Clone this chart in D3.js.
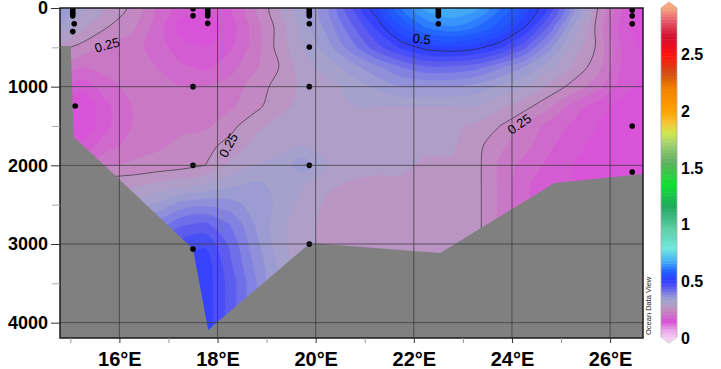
<!DOCTYPE html>
<html>
<head>
<meta charset="utf-8">
<script src="https://cdn.jsdelivr.net/npm/d3@7"></script>
<style>
body { margin: 0; background: #fff; }
svg { font-family: "Liberation Sans", Arial, sans-serif; }
</style>
</head>
<body>
<svg width="721" height="369"></svg>
<script>
// gridded section values (rows = depth, cols = longitude)
var gridLon = [14.75, 15.25, 15.75, 16.25, 16.75, 17.25, 17.75, 18.25, 18.75, 19.25, 19.75, 20.25, 20.75,
               21.25, 21.75, 22.25, 22.75, 23.25, 23.75, 24.25, 24.75, 25.25, 25.75, 26.25, 26.75];
var gridDepth = [0, 250, 500, 750, 1000, 1250, 1500, 1750, 2000, 2250, 2500, 2750, 3000, 3250, 3500, 3750, 4000, 4250];
var field = [
  [0.36,0.30,0.27,0.245,0.20,0.16,0.15,0.17,0.22,0.27,0.32,0.37,0.45,0.52,0.60,0.66,0.68,0.66,0.60,0.54,0.47,0.36,0.25,0.17,0.14],
  [0.32,0.28,0.25,0.23,0.19,0.14,0.13,0.16,0.21,0.26,0.31,0.36,0.42,0.48,0.55,0.60,0.62,0.60,0.56,0.50,0.42,0.32,0.24,0.16,0.13],
  [0.26,0.24,0.22,0.21,0.19,0.16,0.15,0.17,0.21,0.26,0.30,0.34,0.39,0.44,0.48,0.51,0.52,0.51,0.48,0.43,0.36,0.29,0.245,0.17,0.14],
  [0.22,0.20,0.21,0.21,0.20,0.18,0.17,0.19,0.22,0.25,0.29,0.31,0.34,0.37,0.40,0.42,0.42,0.41,0.38,0.35,0.31,0.27,0.235,0.17,0.15],
  [0.18,0.16,0.19,0.21,0.21,0.20,0.20,0.21,0.235,0.26,0.28,0.29,0.31,0.33,0.35,0.35,0.35,0.34,0.32,0.30,0.27,0.24,0.21,0.16,0.14],
  [0.14,0.13,0.17,0.20,0.21,0.21,0.21,0.22,0.24,0.27,0.28,0.29,0.30,0.30,0.30,0.30,0.30,0.30,0.28,0.26,0.23,0.19,0.16,0.14,0.13],
  [0.14,0.13,0.17,0.20,0.21,0.22,0.22,0.24,0.27,0.28,0.29,0.29,0.29,0.29,0.29,0.29,0.28,0.27,0.25,0.22,0.19,0.17,0.15,0.13,0.13],
  [0.17,0.16,0.19,0.21,0.22,0.23,0.24,0.26,0.28,0.29,0.30,0.29,0.29,0.29,0.29,0.28,0.28,0.26,0.23,0.21,0.18,0.16,0.14,0.13,0.13],
  [0.20,0.20,0.22,0.23,0.235,0.24,0.25,0.28,0.30,0.31,0.34,0.30,0.29,0.28,0.28,0.27,0.27,0.26,0.22,0.19,0.17,0.15,0.14,0.13,0.13],
  [0.26,0.26,0.27,0.27,0.28,0.29,0.30,0.32,0.33,0.32,0.30,0.28,0.27,0.27,0.27,0.27,0.27,0.26,0.22,0.18,0.16,0.15,0.14,0.14,0.14],
  [0.30,0.30,0.30,0.31,0.33,0.36,0.37,0.36,0.34,0.32,0.29,0.27,0.26,0.26,0.26,0.26,0.26,0.26,0.22,0.18,0.16,0.15,0.14,0.14,0.14],
  [0.33,0.33,0.34,0.35,0.38,0.42,0.43,0.40,0.35,0.31,0.28,0.27,0.26,0.26,0.26,0.26,0.26,0.26,0.22,0.18,0.16,0.15,0.14,0.14,0.14],
  [0.36,0.36,0.38,0.40,0.43,0.46,0.47,0.42,0.36,0.31,0.28,0.27,0.26,0.26,0.26,0.26,0.26,0.26,0.22,0.18,0.16,0.15,0.14,0.14,0.14],
  [0.40,0.40,0.42,0.44,0.46,0.48,0.49,0.43,0.37,0.32,0.28,0.27,0.26,0.26,0.26,0.26,0.26,0.26,0.22,0.18,0.16,0.15,0.14,0.14,0.14],
  [0.42,0.42,0.44,0.46,0.47,0.48,0.49,0.44,0.38,0.32,0.28,0.27,0.26,0.26,0.26,0.26,0.26,0.26,0.22,0.18,0.16,0.15,0.14,0.14,0.14],
  [0.42,0.42,0.44,0.46,0.47,0.48,0.49,0.44,0.38,0.32,0.28,0.27,0.26,0.26,0.26,0.26,0.26,0.26,0.22,0.18,0.16,0.15,0.14,0.14,0.14],
  [0.42,0.42,0.44,0.46,0.47,0.48,0.49,0.44,0.38,0.32,0.28,0.27,0.26,0.26,0.26,0.26,0.26,0.26,0.22,0.18,0.16,0.15,0.14,0.14,0.14],
  [0.42,0.42,0.44,0.46,0.47,0.48,0.49,0.44,0.38,0.32,0.28,0.27,0.26,0.26,0.26,0.26,0.26,0.26,0.22,0.18,0.16,0.15,0.14,0.14,0.14]
];

// seafloor
var bottomLon   = [14.6, 15.01, 15.07, 15.97, 17.50, 17.81, 19.89, 22.54, 24.87, 26.67, 26.9];
var bottomDepth = [483, 483, 1640, 2161, 3063, 4093, 2987, 3114, 2224, 2110, 2105];

// sample positions
var sampleLon = [15.05, 15.05, 15.05, 15.05, 15.08, 15.05, 15.1,
                 17.5, 17.5, 17.5, 17.5, 17.5,
                 17.8, 17.8, 17.8, 17.8, 17.8,
                 19.87, 19.87, 19.87, 19.87, 19.87, 19.87, 19.87, 19.87, 19.87,
                 22.5, 22.5, 22.5, 22.5, 22.5,
                 26.45, 26.45, 26.45, 26.45, 26.45];
var sampleDepth = [10, 40, 70, 100, 200, 300, 1245,
                   10, 98, 1000, 2000, 3063,
                   10, 40, 70, 100, 195,
                   10, 40, 70, 100, 200, 496, 1000, 2000, 3000,
                   10, 40, 70, 100, 200,
                   25, 100, 200, 1500, 2085];

var lonTicks = [16, 18, 20, 22, 24, 26];
var lonMinor = [15, 17, 19, 21, 23, 25];
var depthTicks = [0, 1000, 2000, 3000, 4000];
var depthMinor = [500, 1500, 2500, 3500];
var barTicks = [0, 0.5, 1, 1.5, 2, 2.5];
var contourLevels = [0.25, 0.5];

var labelText  = ["0.25", "0.25", "0.5", "0.25"];
var labelLon   = [15.75, 18.22, 22.16, 24.15];
var labelDepth = [470, 1745, 394, 1475];
var labelAngle = [-15, -62, 6, -35];

var colorStops = [0, 0.07, 0.14, 0.2, 0.25, 0.29, 0.33, 0.38, 0.44, 0.5, 0.58, 0.66, 0.78, 0.95, 1.15, 1.35,
                  1.55, 1.7, 1.8, 1.9, 2.0, 2.2, 2.32, 2.5, 2.65, 2.8, 2.9];
var colorHexes = ["#f4c8f4", "#e8a0e8", "#d850d8", "#cc70c8", "#c090c0", "#ae9fc8", "#a0a0d0", "#8888e0",
                  "#5a5af0", "#2c3cff", "#2060ff", "#40a8f8", "#70e8e0", "#60d0a8", "#20a860", "#10e030",
                  "#60b060", "#a0d070", "#d0e850", "#f8c030", "#ffa000", "#f08000", "#d05010", "#ff1010",
                  "#d01030", "#e86070", "#f8a880"];

var svg = d3.select("svg"),
    pL = 60, pR = 643, pT = 8, pB = 338;

var x = d3.scaleLinear().domain([14.79, 26.67]).range([pL, pR]);
var y = d3.scaleLinear().domain([0, 4195]).range([pT, pB]);
var color = d3.scaleLinear().domain(colorStops).range(colorHexes).clamp(true);

var n = gridLon.length, m = gridDepth.length;
var gx = d3.scaleLinear().domain([0.5, n - 0.5]).range([gridLon[0], gridLon[n - 1]]);
var gy = d3.scaleLinear().domain([0.5, m - 0.5]).range([gridDepth[0], gridDepth[m - 1]]);

// contour rings -> smooth closed curves in pixel space
var ringLine = d3.line().curve(d3.curveCatmullRomClosed.alpha(0.5));
function contourPath(d) {
  return d.coordinates.map(function(poly) {
    return poly.map(function(ring) {
      return ringLine(ring.slice(0, -1).map(function(p) { return [x(gx(p[0])), y(gy(p[1]))]; }));
    }).join("");
  }).join("");
}

svg.append("clipPath").attr("id", "plot")
   .append("rect").attr("x", pL).attr("y", pT)
   .attr("width", pR - pL).attr("height", pB - pT);

var values = [].concat.apply([], field);
var step = 0.025;
var bands = d3.range(0, 2.9, step);

var g = svg.append("g").attr("clip-path", "url(#plot)");

g.selectAll("path.band")
 .data(d3.contours().size([n, m]).thresholds(bands)(values))
 .enter().append("path")
 .attr("class", "band")
 .attr("d", contourPath)
 .attr("fill", function(d) { return color(d.value + step / 2); })
 .attr("stroke", function(d) { return color(d.value + step / 2); })
 .attr("stroke-width", 0.4);

g.selectAll("path.iso")
 .data(d3.contours().size([n, m]).thresholds(contourLevels)(values))
 .enter().append("path")
 .attr("class", "iso")
 .attr("d", contourPath)
 .attr("fill", "none")
 .attr("stroke", "#222")
 .attr("stroke-width", 0.6);

var floor = bottomLon.map(function(d, i) { return [d, bottomDepth[i]]; });
g.append("path")
 .datum(floor)
 .attr("d", d3.area()
   .x(function(d) { return x(d[0]); })
   .y0(pB + 5)
   .y1(function(d) { return y(d[1]); }))
 .attr("fill", "#808080");

// grid
svg.append("g").selectAll("line")
   .data(lonTicks).enter().append("line")
   .attr("x1", function(d) { return x(d); }).attr("x2", function(d) { return x(d); })
   .attr("y1", pT).attr("y2", pB)
   .attr("stroke", "#3a3a3a").attr("stroke-opacity", 0.75).attr("stroke-width", 1);
svg.append("g").selectAll("line")
   .data(depthTicks.slice(1)).enter().append("line")
   .attr("x1", pL).attr("x2", pR)
   .attr("y1", function(d) { return y(d); }).attr("y2", function(d) { return y(d); })
   .attr("stroke", "#3a3a3a").attr("stroke-opacity", 0.75).attr("stroke-width", 1);

g.selectAll("circle")
 .data(sampleLon).enter().append("circle")
 .attr("cx", function(d) { return x(d); })
 .attr("cy", function(d, i) { return y(sampleDepth[i]); })
 .attr("r", 2.8)
 .attr("fill", "#000");

svg.selectAll("text.clab")
   .data(labelText).enter().append("text")
   .attr("class", "clab")
   .attr("transform", function(d, i) {
     return "translate(" + x(labelLon[i]) + "," + y(labelDepth[i]) + ") rotate(" + labelAngle[i] + ")";
   })
   .attr("text-anchor", "middle")
   .attr("dy", "0.35em")
   .attr("font-size", "13px")
   .attr("fill", "#000")
   .text(function(d) { return d; });

svg.append("rect")
   .attr("x", pL).attr("y", pT)
   .attr("width", pR - pL).attr("height", pB - pT)
   .attr("fill", "none").attr("stroke", "#1a1a1a").attr("stroke-width", 1.5);

// axes
var xAxis = svg.append("g")
   .attr("transform", "translate(0," + pB + ")")
   .call(d3.axisBottom(x).tickValues(lonTicks).tickSize(5).tickPadding(9)
     .tickFormat(function(d) { return d + "°E"; }));
svg.append("g")
   .attr("transform", "translate(0," + pB + ")")
   .call(d3.axisBottom(x).tickValues(lonMinor).tickSize(5).tickFormat(""))
   .call(function(a) { a.select(".domain").remove(); a.selectAll("line").attr("stroke", "#999"); });

var yAxis = svg.append("g")
   .attr("transform", "translate(" + pL + ",0)")
   .call(d3.axisLeft(y).tickValues(depthTicks).tickSize(9).tickPadding(3).tickFormat(d3.format("d")));
svg.append("g")
   .attr("transform", "translate(" + pL + ",0)")
   .call(d3.axisLeft(y).tickValues(depthMinor).tickSize(8).tickFormat(""))
   .call(function(a) { a.select(".domain").remove(); a.selectAll("line").attr("stroke", "#aaa"); });

[xAxis, yAxis].forEach(function(a) {
  a.select(".domain").remove();
  a.selectAll("line").attr("stroke", "#333");
  a.selectAll("text").attr("font-family", "Liberation Sans, Arial, sans-serif")
   .attr("font-weight", "bold").attr("fill", "#000");
});
xAxis.selectAll("text").attr("font-size", "20px");
yAxis.selectAll("text").attr("font-size", "18px");

// colour bar
var cy = d3.scaleLinear().domain([0, 2.9]).range([337, 8]);
var bar = svg.append("g");
bar.selectAll("rect")
   .data(d3.range(0, 2.9, 0.025)).enter().append("rect")
   .attr("x", 661).attr("width", 16)
   .attr("y", function(d) { return cy(d + 0.025); })
   .attr("height", function(d) { return cy(d) - cy(d + 0.025) + 0.5; })
   .attr("fill", function(d) { return color(d + 0.0125); });
bar.append("path")
   .attr("d", "M661,8 L669,2 L677,8 L677,337 L669,343 L661,337 Z")
   .attr("fill", "none").attr("stroke", "#aaa").attr("stroke-width", 0.8);
bar.append("path").attr("d", "M661,8 L669,2 L677,8 Z").attr("fill", color(2.9));
bar.append("path").attr("d", "M661,337 L669,343 L677,337 Z").attr("fill", "#f4d0f4");

bar.selectAll("text")
   .data(barTicks).enter().append("text")
   .attr("x", 681)
   .attr("y", function(d) { return cy(d) + 1; })
   .attr("dy", "0.36em")
   .attr("font-size", "16px")
   .attr("font-weight", "bold")
   .text(function(d) { return d; });

svg.append("text")
   .attr("transform", "translate(651,335) rotate(-90)")
   .attr("font-size", "7.5px")
   .attr("fill", "#222")
   .text("Ocean Data View");
</script>
</body>
</html>
